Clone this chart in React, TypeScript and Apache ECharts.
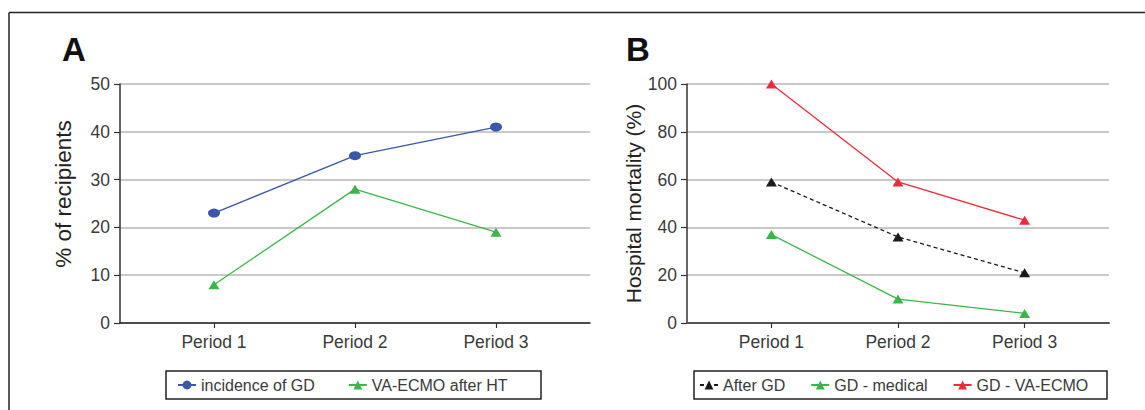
import React, { useEffect, useRef } from "react";
import * as echarts from "echarts";

const categories = ["Period 1", "Period 2", "Period 3"];
const incidenceGD = [23, 35, 41];
const vaEcmoAfterHT = [8, 28, 19];
const afterGD = [59, 36, 21];
const gdMedical = [37, 10, 4];
const gdVaEcmo = [100, 59, 43];
const legendA = ["incidence of GD", "VA-ECMO after HT"];
const legendB = ["After GD", "GD - medical", "GD - VA-ECMO"];

const FONT = "Liberation Sans, Arial, sans-serif";
const TXT = "#3a3a3a";
const BLUE = "#3b57a8";
const GREEN = "#3cb54a";
const RED = "#ec2b3b";
const BLACK = "#1a1a1a";

const toPoints = (vals: number[]) => vals.map((v, i) => [i + 1, v]);
const catIdx = categories.map((_, i) => i + 1);

function xAxis(gridIndex: number, lineColor: string, lineWidth: number) {
  return {
    type: "value",
    gridIndex,
    min: 1 / 3,
    max: 11 / 3,
    splitLine: { show: false },
    axisLine: { show: true, onZero: false, lineStyle: { color: lineColor, width: lineWidth } },
    axisTick: { show: true, customValues: catIdx, length: 5, lineStyle: { color: "#333", width: 1.2 } },
    axisLabel: {
      customValues: catIdx,
      formatter: (v: number) => categories[Math.round(v) - 1] ?? "",
      margin: 10,
      fontSize: 17.5,
      color: TXT,
      fontFamily: FONT,
    },
  };
}

function yAxis(
  gridIndex: number,
  max: number,
  interval: number,
  name: string,
  nameGap: number,
  fontSize: number,
  padding: number[]
) {
  return {
    type: "value",
    gridIndex,
    min: 0,
    max,
    interval,
    name,
    nameLocation: "middle",
    nameGap,
    nameTextStyle: { fontSize, color: "#222", fontFamily: FONT, padding },
    axisLine: { show: true, lineStyle: { color: "#333", width: 1.5 } },
    axisTick: { show: true, length: 6, lineStyle: { color: "#333", width: 1.2 } },
    axisLabel: { margin: 10, fontSize: 17.5, color: TXT, fontFamily: FONT },
    splitLine: { show: true, lineStyle: { color: "#c9c9c9", width: 2 } },
  };
}

export default function App() {
  const ref = useRef<HTMLDivElement>(null);
  useEffect(() => {
    document.body.style.margin = "0";
    if (!ref.current) return;
    const chart = echarts.init(ref.current, null, { renderer: "svg" });
    const lineSeries = (
      name: string,
      vals: number[],
      color: string,
      symbol: string,
      symbolSize: number[],
      idx: number,
      dashed = false
    ) => ({
      type: "line",
      name,
      xAxisIndex: idx,
      yAxisIndex: idx,
      data: toPoints(vals),
      symbol,
      symbolSize,
      itemStyle: { color },
      lineStyle: { color, width: 1.3, type: dashed ? [4, 3] : "solid" },
    });
    chart.setOption({
      animation: false,
      backgroundColor: "#fff",
      grid: [
        { left: 120, top: 84, width: 470, height: 239 },
        { left: 687, top: 84, width: 422, height: 239 },
      ],
      xAxis: [xAxis(0, "#222", 1.5), xAxis(1, "#555", 2)],
      yAxis: [
        yAxis(0, 50, 10, "% of recipients", 45, 22.5, [0, 0, 0, 19]),
        yAxis(1, 100, 20, "Hospital mortality (%)", 41, 21, [0, 0, 0, 0]),
      ],
      legend: [
        {
          data: legendA,
          left: 177,
          top: 377,
          padding: 0,
          itemWidth: 18,
          itemHeight: 11,
          itemGap: 33,
          textStyle: { fontSize: 16, color: TXT, fontFamily: FONT },
        },
        {
          data: legendB,
          left: 699,
          top: 377,
          padding: 0,
          itemWidth: 18,
          itemHeight: 11,
          itemGap: 25,
          textStyle: { fontSize: 16, color: TXT, fontFamily: FONT },
        },
      ],
      graphic: [
        { type: "line", shape: { x1: 9, y1: 12.5, x2: 1145, y2: 12.5 }, style: { stroke: "#222", lineWidth: 1.5 } },
        { type: "line", shape: { x1: 9, y1: 12.5, x2: 9, y2: 410 }, style: { stroke: "#222", lineWidth: 1.5 } },
        { type: "rect", shape: { x: 166, y: 371, width: 375, height: 28 }, style: { fill: "none", stroke: "#222", lineWidth: 1.5 } },
        { type: "rect", shape: { x: 694, y: 371, width: 413, height: 28 }, style: { fill: "none", stroke: "#222", lineWidth: 1.5 } },
        { type: "text", left: 62, top: 33, style: { text: "A", fontSize: 33, fontWeight: "bold", fill: "#111", fontFamily: FONT } },
        { type: "text", left: 626, top: 33, style: { text: "B", fontSize: 33, fontWeight: "bold", fill: "#111", fontFamily: FONT } },
      ],
      series: [
        lineSeries(legendA[0], incidenceGD, BLUE, "circle", [12, 9], 0),
        lineSeries(legendA[1], vaEcmoAfterHT, GREEN, "triangle", [11, 9], 0),
        lineSeries(legendB[0], afterGD, BLACK, "triangle", [11, 9], 1, true),
        lineSeries(legendB[1], gdMedical, GREEN, "triangle", [11, 9], 1),
        lineSeries(legendB[2], gdVaEcmo, RED, "triangle", [11, 9], 1),
      ],
    });
    return () => chart.dispose();
  }, []);
  return <div ref={ref} style={{ width: 1145, height: 410 }} />;
}
